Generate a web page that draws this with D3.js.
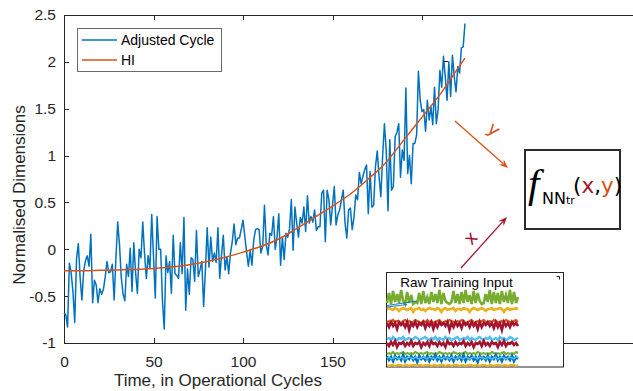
<!DOCTYPE html>
<html><head><meta charset="utf-8">
<script src="https://cdn.jsdelivr.net/npm/d3@7"></script>
<style>
html,body{margin:0;padding:0;background:#fff;}
svg{display:block;font-family:"Liberation Sans",Arial,Helvetica,sans-serif;}
</style>
</head><body>
<svg id="chart" width="633" height="391"></svg>
<script>
// ---- data ----
const adjustedCycle = [
 -0.68,-0.70,-0.83,-0.15,-0.25,-0.45,-0.78,-0.10,0.06,-0.30,
 -0.54,-0.23,-0.12,-0.07,-0.18,0.16,-0.57,-0.33,-0.38,-0.57,
 -0.42,-0.48,-0.43,-0.30,-0.13,-0.25,-0.24,-0.16,-0.54,-0.10,
 0.29,0.05,-0.30,-0.48,-0.55,-0.16,-0.29,0.01,-0.45,0.07,
 -0.25,-0.47,0.00,-0.09,0.29,-0.05,-0.31,-0.07,-0.20,0.37,
 -0.08,-0.52,0.35,0.00,0.00,-0.55,-0.85,-0.07,-0.25,-0.13,
 -0.47,0.15,-0.26,-0.28,-0.31,0.07,-0.26,0.34,-0.65,-0.21,
 -0.48,-0.09,-0.11,-0.34,0.20,-0.29,-0.22,-0.13,-0.61,-0.22,
 0.23,-0.19,0.13,-0.13,-0.04,-0.14,0.23,-0.31,-0.06,0.15,
 -0.22,-0.08,-0.26,-0.04,0.08,0.27,0.05,0.12,0.12,0.21,
 0.31,0.14,-0.03,-0.18,-0.01,-0.17,0.10,0.21,0.22,0.21,
 -0.04,0.03,0.47,0.05,-0.06,0.17,0.15,0.35,0.00,0.13,
 0.38,-0.17,0.13,-0.11,0.17,0.13,0.22,0.53,-0.01,0.45,
 0.28,0.13,0.34,0.28,0.45,0.19,0.57,0.28,0.35,0.29,
 0.42,0.20,0.24,0.24,0.60,0.63,0.08,0.63,0.53,0.26,
 0.47,0.67,0.26,0.37,0.42,0.53,0.63,0.28,0.12,0.42,
 0.44,0.21,0.34,0.58,0.53,0.82,0.70,0.78,0.85,0.90,
 0.38,0.83,0.45,0.47,0.88,1.05,0.78,0.56,0.99,1.34,
 1.06,0.41,1.17,0.63,0.67,1.20,1.25,1.34,0.77,1.06,
 0.95,1.72,0.81,1.00,0.70,1.13,1.13,1.22,1.90,1.59,
 1.47,1.49,1.26,1.59,1.38,1.52,1.33,1.73,1.34,1.49,
 1.91,1.73,2.06,1.84,1.59,2.00,1.63,2.07,1.84,1.68,
 1.95,1.88,2.15,2.16,2.41
];
const hiCycles = [0,10,20,30,40,50,60,70,80,90,100,110,120,130,140,150,160,170,180,190,200,210,220,224];
const hiValues = [-0.23,-0.23,-0.225,-0.22,-0.215,-0.205,-0.19,-0.165,-0.13,-0.085,-0.03,0.03,0.11,0.22,0.34,0.46,0.59,0.75,0.93,1.17,1.41,1.65,1.93,2.04];

const seriesNames = ["Adjusted Cycle", "HI"];
const xTickValues = [0, 50, 100, 150, 200];
const xTickLabels = ["0", "50", "100", "150", "200"];
const yTickValues = [-1, -0.5, 0, 0.5, 1, 1.5, 2, 2.5];
const yTickLabels = ["-1", "-0.5", "0", "0.5", "1", "1.5", "2", "2.5"];

// raw training input traces (inset units)
const rawGreenA = [64,74,63,76,65,73,64,77,66,63,75,64,72,63,65,64,74,63,76,64,70,63,75,65,73,64,77,63,74,66,64,63,65,76,64,73,63,75,64,77,65,72,63,76,64,74,66,63,64,73,65,77,63,75,64,74,63,76,65,72,64,77,63,75,64,70];
const rawYellowA = [58,59,58,57,59,58,56,58,59,58,57,58,59,55,58,58,59,57,58,56,58,59,58,58,57,59,58,55,58,59,57,58,58,59,56,58,58,57,59,58,58,55,58,59,58,57,58,59,58,56,58,58,59,57,58,58,59,58,55,58,59,57,58,58,59,58];
const rawOrangeA = [45,46,44,47,45,46,45,44,46,47,45,46,44,45,47,46,45,44,46,45,47,45,46,44,45,46,47,45,44,46,45,47,46,45,44,46,45,47,46,44,45,46,47,45,44,46,45,46,47,45,44,46,45,47,46,45,44,46,45,47,46,45,44,46,47,45];
const rawRedA = [44,40,45,41,44,38,45,42,44,40,45,37,44,41,45,40,44,42,45,39,44,41,45,38,44,40,45,42,44,41,45,37,44,40,45,41,44,39,45,42,44,40,45,41,44,38,45,40,44,42,45,41,44,39,45,40,44,37,45,41,44,40,45,42,44,41];
const rawCyanA = [28,29,27,30,28,27,29,28,30,27,28,29,27,28,30,29,27,28,29,30,28,27,29,28,30,27,29,28,27,30,28,29,27,28,29,30,27,28,29,28,30,27,29,28,27,29,30,28,27,29,28,30,27,28,29,27,30,28,29,27,28,30,29,27,28,29];
const rawRedB = [24,21,25,22,26,20,24,23,25,21,24,22,26,21,24,23,25,20,24,22,25,21,26,23,24,21,25,22,24,20,26,23,24,21,25,22,24,23,26,21,24,22,25,20,24,23,25,21,26,22,24,21,25,23,24,20,25,22,26,21,24,23,25,22,24,21];
const rawGreenB = [13,14,13,15,13,14,13,14,15,13,14,13,14,13,15,14,13,14,13,14,15,13,14,13,14,13,15,14,13,14,13,14,13,15,14,13,14,13,14,15,13,14,13,14,13,15,14,13,14,13,14,13,15,14,13,14,13,14,15,13,14,13,14,13,15,14];
const rawBlueA = [11,7,10,6,11,8,10,7,12,6,10,8,11,7,10,5,11,8,10,7,11,6,10,8,12,7,10,6,11,8,10,7,11,6,10,8,11,7,12,6,10,8,11,7,10,5,11,8,10,7,11,6,10,8,12,7,10,6,11,8,10,7,11,6,10,8];
const rawCyanB = [9,10,8,9,10,9,8,10,9,8,9,10,9,8,10,9,8,9,10,9,8,10,9,9,8,10,9,8,9,10,9,8,10,9,8,9,10,9,8,10,9,8,9,10,9,8,10,9,9,8,10,9,8,9,10,8,9,10,9,8,9,10,9,8,10,9];
const rawYellowB = [2,1,2,2,1,2,2,2,1,2,2,1,2,2,2,1,2,2,1,2,2,2,1,2,2,1,2,2,2,1,2,2,1,2,2,2,1,2,2,1,2,2,2,1,2,2,1,2,2,2,1,2,2,1,2,2,2,1,2,2,1,2,2,2,1,2];
const rawStreakA = [[0,61.5],[15,66]];
const rawStreakB = [[0,60],[10,62.5]];

// ---- drawing ----
const W = 633, H = 391;
const ink = "#262626";
const blue = "#0072BD", orange = "#D95319", wine = "#A2142F",
      green = "#77AC30", gold = "#EDB120", cyan = "#4DBEEE";

const svg = d3.select("#chart");

const x = d3.scaleLinear().domain([0, 200]).range([64, 422]);
const y = d3.scaleLinear().domain([-1, 2.5]).range([343, 15]);

// axes frame: left, top and bottom rules
const frame = svg.append("g").attr("stroke", ink).attr("stroke-width", 1)
  .attr("shape-rendering", "crispEdges");
frame.append("line").attr("x1", x(0)).attr("x2", x(0)).attr("y1", y(2.5)).attr("y2", y(-1));
frame.append("line").attr("x1", x(0)).attr("x2", W).attr("y1", y(2.5)).attr("y2", y(2.5));
frame.append("line").attr("x1", x(0)).attr("x2", W).attr("y1", y(-1)).attr("y2", y(-1));

function styleAxis(g) {
  g.select(".domain").remove();
  g.attr("font-family", "'Liberation Sans',Arial,sans-serif").attr("font-size", 15.5).attr("color", ink);
  g.selectAll(".tick line").attr("shape-rendering", "crispEdges");
}

svg.append("g").attr("transform", `translate(0,${y(-1)})`)
  .call(d3.axisBottom(x).tickValues(xTickValues).tickFormat((d, i) => xTickLabels[i])
    .tickSizeInner(-5).tickSizeOuter(0).tickPadding(13))
  .call(styleAxis);

svg.append("g").attr("transform", `translate(0,${y(2.5)})`)
  .call(d3.axisTop(x).tickValues(xTickValues).tickFormat("")
    .tickSizeInner(-5).tickSizeOuter(0))
  .call(styleAxis);

svg.append("g").attr("transform", `translate(${x(0)},0)`)
  .call(d3.axisLeft(y).tickValues(yTickValues).tickFormat((d, i) => yTickLabels[i])
    .tickSizeInner(-5).tickSizeOuter(0).tickPadding(8))
  .call(styleAxis);

// axis titles
svg.append("text").attr("x", 218).attr("y", 386).attr("text-anchor", "middle")
  .attr("font-size", 17).attr("fill", ink).text("Time, in Operational Cycles");
svg.append("text").attr("transform", "translate(25,195) rotate(-90)").attr("text-anchor", "middle")
  .attr("font-size", 17).attr("fill", ink).text("Normalised Dimensions");

// series
const cycleLine = d3.line().x((d, i) => x(i)).y(d => y(d));
svg.append("path").datum(adjustedCycle).attr("d", cycleLine)
  .attr("fill", "none").attr("stroke", blue).attr("stroke-width", 1.5).attr("stroke-linejoin", "round");

const hiLine = d3.line().x(d => x(d[0])).y(d => y(d[1])).curve(d3.curveMonotoneX);
svg.append("path").datum(hiCycles.map((c, i) => [c, hiValues[i]])).attr("d", hiLine)
  .attr("fill", "none").attr("stroke", orange).attr("stroke-width", 1.5);

// small mark near the upper end of the series
svg.append("line").attr("x1", 443).attr("x2", 448).attr("y1", 61.5).attr("y2", 61.5)
  .attr("stroke", ink).attr("stroke-width", 1);

// legend
const legend = svg.append("g");
legend.append("rect").attr("x", 77.5).attr("y", 28.5).attr("width", 144).attr("height", 43)
  .attr("fill", "#fff").attr("stroke", "#6b6b6b").attr("stroke-width", 1);
[blue, orange].forEach((c, i) => {
  const ly = 40 + i * 20;
  legend.append("line").attr("x1", 82).attr("x2", 117).attr("y1", ly).attr("y2", ly)
    .attr("stroke", c).attr("stroke-width", 1.5);
  legend.append("text").attr("x", 121).attr("y", ly).attr("dy", "0.35em")
    .attr("font-size", 14).attr("fill", "#000").text(seriesNames[i]);
});

// arrows into the network box
function arrow(x1, y1, x2, y2, color) {
  const a = Math.atan2(y2 - y1, x2 - x1), L = 9, hw = 3.6;
  const ca = Math.cos(a), sa = Math.sin(a);
  const g = svg.append("g");
  g.append("line").attr("x1", x1).attr("y1", y1)
    .attr("x2", x2 - 0.7 * L * ca).attr("y2", y2 - 0.7 * L * sa)
    .attr("stroke", color).attr("stroke-width", 1.3);
  const pts = [
    [x2, y2],
    [x2 - L * ca + hw * sa, y2 - L * sa - hw * ca],
    [x2 - 0.65 * L * ca, y2 - 0.65 * L * sa],
    [x2 - L * ca - hw * sa, y2 - L * sa + hw * ca]
  ];
  g.append("polygon").attr("points", pts.map(p => p.join(",")).join(" ")).attr("fill", color);
}
arrow(455, 121, 508, 168, orange);
arrow(461, 268, 507, 217, wine);

svg.append("text").attr("transform", "translate(490,134) rotate(40)").attr("text-anchor", "middle")
  .attr("font-family", "'DejaVu Sans',sans-serif").attr("font-size", 18).attr("fill", orange).text("y");
svg.append("text").attr("transform", "translate(475,242) rotate(-48)").attr("text-anchor", "middle")
  .attr("font-family", "'DejaVu Sans',sans-serif").attr("font-size", 18).attr("fill", wine).text("x");

// network function box
svg.append("rect").attr("x", 525).attr("y", 150).attr("width", 95).attr("height", 79)
  .attr("fill", "#fff").attr("stroke", "#2b2b2b").attr("stroke-width", 2);
const ft = svg.append("text").attr("fill", "#000");
ft.append("tspan").attr("x", 528).attr("y", 197)
  .attr("font-family", "'Liberation Serif','Times New Roman',serif").attr("font-style", "italic")
  .attr("font-size", 41).text("f");
ft.append("tspan").attr("x", 542).attr("y", 204)
  .attr("font-family", "'DejaVu Sans',sans-serif").attr("font-size", 16).text("NN");
ft.append("tspan").attr("font-family", "'DejaVu Sans',sans-serif").attr("font-size", 11).text("tr");
const args = [["(", "#000"], ["x", wine], [",", "#000"], ["y", orange], [")", "#000"]];
args.forEach((p, i) => {
  const t = ft.append("tspan").attr("font-family", "'DejaVu Sans',sans-serif").attr("font-size", 21.5)
    .attr("fill", p[1]).text(p[0]);
  if (i === 0) t.attr("x", 573).attr("y", 193);
});

// raw training input inset
const inset = svg.append("g");
inset.append("rect").attr("x", 386.5).attr("y", 272.5).attr("width", 177).attr("height", 94.5)
  .attr("fill", "#fff").attr("stroke", ink).attr("stroke-width", 1);
inset.append("path").attr("d", "M556.5,276.5H559.5V279.5").attr("fill", "none")
  .attr("stroke", ink).attr("stroke-width", 1);
inset.append("text").attr("x", 456.5).attr("y", 287).attr("text-anchor", "middle")
  .attr("font-size", 13.5).attr("fill", "#000").text("Raw Training Input");

const xi = d3.scaleLinear().domain([0, 65]).range([387, 518]);
const yi = d3.scaleLinear().domain([0, 80]).range([367, 287]);
const rawLine = d3.line().x((d, i) => xi(i)).y(d => yi(d));
const traces = [
  [rawGreenA, green, 2.6], [rawYellowA, gold, 2.6], [rawOrangeA, orange, 2.2],
  [rawRedA, wine, 2.6], [rawCyanA, cyan, 2.4], [rawRedB, wine, 2.6],
  [rawGreenB, green, 2.0], [rawBlueA, blue, 2.6], [rawCyanB, cyan, 1.4],
  [rawYellowB, gold, 2.0]
];
traces.forEach(([vals, col, sw]) => {
  inset.append("path").datum(vals).attr("d", rawLine)
    .attr("fill", "none").attr("stroke", col).attr("stroke-width", sw);
});
const streakLine = d3.line().x(d => xi(d[0])).y(d => yi(d[1]));
[rawStreakA, rawStreakB].forEach(s => {
  inset.append("path").datum(s).attr("d", streakLine)
    .attr("fill", "none").attr("stroke", blue).attr("stroke-width", 0.9);
});
</script>
</body></html>
